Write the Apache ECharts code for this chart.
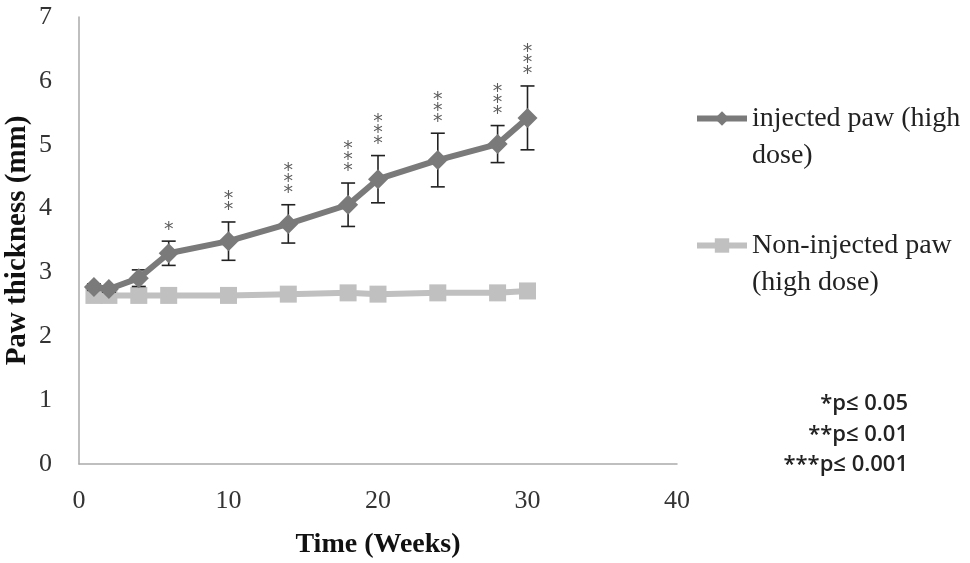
<!DOCTYPE html>
<html>
<head>
<meta charset="utf-8">
<script src="https://cdn.jsdelivr.net/npm/echarts@6/dist/echarts.min.js"></script>
<style>
  html, body { margin: 0; padding: 0; background: #fff; }
  #chart { width: 970px; height: 563px; }
</style>
</head>
<body>
<div id="chart"></div>
<script>
// weeks
const weeks = [1, 2, 4, 6, 10, 14, 18, 20, 24, 28, 30];
// injected paw (high dose), mean and SD
const injected = [2.77, 2.74, 2.91, 3.30, 3.49, 3.76, 4.06, 4.46, 4.76, 5.01, 5.42];
const injectedErr = [0.05, 0.05, 0.13, 0.19, 0.30, 0.30, 0.34, 0.37, 0.42, 0.29, 0.50];
// non-injected paw (high dose)
const nonInjected = [2.64, 2.64, 2.64, 2.64, 2.64, 2.66, 2.68, 2.66, 2.68, 2.68, 2.71];
// significance marks
const sigMarks = ['', '', '', '*', '**', '***', '***', '***', '***', '***', '***'];
const pNotes = ['*p\u2264 0.05', '**p\u2264 0.01', '***p\u2264 0.001'];
const xTicks = [0, 10, 20, 30, 40];

const serif = '"Liberation Serif", "DejaVu Serif", serif';
const chart = echarts.init(document.getElementById('chart'));

const names = {
  inj: 'injected paw (high dose)',
  non: 'Non-injected paw (high dose)'
};
// legend text: a blank first line keeps the icon level with the first real line
const legendText = {};
legendText[names.inj] = '\ninjected paw (high\ndose)';
legendText[names.non] = '\nNon-injected paw\n(high dose)';

function errorBarItem(params, api) {
  const x = api.value(0);
  const lo = api.coord([x, api.value(1) - api.value(2)]);
  const hi = api.coord([x, api.value(1) + api.value(2)]);
  const cap = 7;
  const style = { stroke: '#222', lineWidth: 1.6 };
  return {
    type: 'group',
    children: [
      { type: 'line', shape: { x1: lo[0], y1: lo[1], x2: hi[0], y2: hi[1] }, style: style },
      { type: 'line', shape: { x1: hi[0] - cap, y1: hi[1], x2: hi[0] + cap, y2: hi[1] }, style: style },
      { type: 'line', shape: { x1: lo[0] - cap, y1: lo[1], x2: lo[0] + cap, y2: lo[1] }, style: style }
    ]
  };
}

function legendFor(name, top) {
  return {
    left: 689,
    top: top,
    itemWidth: 50,
    itemHeight: 18,
    lineStyle: { width: 6 },
    data: [name],
    formatter: n => legendText[n],
    textStyle: { fontFamily: serif, fontSize: 28, color: '#222', lineHeight: 37 }
  };
}

const option = {
  backgroundColor: '#fff',
  animation: false,
  grid: { left: 79, right: 293, top: 17, bottom: 99, outerBoundsMode: 'none' },
  legend: [legendFor(names.inj, 58), legendFor(names.non, 185)],
  xAxis: {
    type: 'value',
    min: 0, max: 40, interval: 10,
    name: 'Time (Weeks)',
    nameLocation: 'middle',
    nameGap: 67,
    nameMoveOverlap: false,
    nameTextStyle: { fontFamily: serif, fontSize: 28, fontWeight: 'bold', color: '#111' },
    axisLine: { show: true, lineStyle: { color: '#aaa', width: 1.5 } },
    axisTick: { show: false },
    splitLine: { show: false },
    axisLabel: {
      fontFamily: serif, fontSize: 26, color: '#333', margin: 24,
      customValues: xTicks
    }
  },
  yAxis: {
    type: 'value',
    min: 0, max: 7, interval: 1,
    name: 'Paw thickness (mm)',
    nameLocation: 'middle',
    nameGap: 47,
    nameMoveOverlap: false,
    nameTextStyle: { fontFamily: serif, fontSize: 29, fontWeight: 'bold', color: '#111' },
    axisLine: { show: true, lineStyle: { color: '#aaa', width: 1.5 } },
    axisTick: { show: false },
    splitLine: { show: false },
    axisLabel: { fontFamily: serif, fontSize: 26, color: '#333', margin: 27 }
  },
  series: [
    {
      name: names.non,
      type: 'line',
      data: weeks.map((w, i) => [w, nonInjected[i]]),
      symbol: 'rect',
      symbolSize: 17,
      lineStyle: { color: '#c0c0c0', width: 6 },
      itemStyle: { color: '#c0c0c0' },
      z: 2
    },
    {
      type: 'custom',
      renderItem: errorBarItem,
      data: weeks.map((w, i) => [w, injected[i], injectedErr[i]]),
      z: 3,
      silent: true
    },
    {
      name: names.inj,
      type: 'line',
      data: weeks.map((w, i) => [w, injected[i]]),
      symbol: 'diamond',
      symbolSize: 20,
      lineStyle: { color: '#7a7a7a', width: 6 },
      itemStyle: { color: '#7a7a7a' },
      z: 4
    },
    {
      type: 'scatter',
      symbolSize: 0,
      silent: true,
      data: weeks.map((w, i) => ({
        value: [w, injected[i] + injectedErr[i]],
        label: { formatter: sigMarks[i].split('').join('\n') }
      })),
      label: {
        show: true,
        position: 'top',
        distance: 6,
        fontFamily: '"DejaVu Sans", sans-serif',
        fontSize: 19,
        lineHeight: 11,
        color: '#333'
      },
      z: 5
    }
  ],
  graphic: pNotes.map((t, i) => ({
    type: 'text',
    right: 62,
    top: 393 + i * 30.5,
    style: {
      text: t,
      fontFamily: '"Open Sans", "Liberation Sans", sans-serif',
      fontSize: 22,
      fontWeight: 600,
      fill: '#222',
      textAlign: 'right'
    }
  }))
};

chart.setOption(option);
</script>
</body>
</html>
